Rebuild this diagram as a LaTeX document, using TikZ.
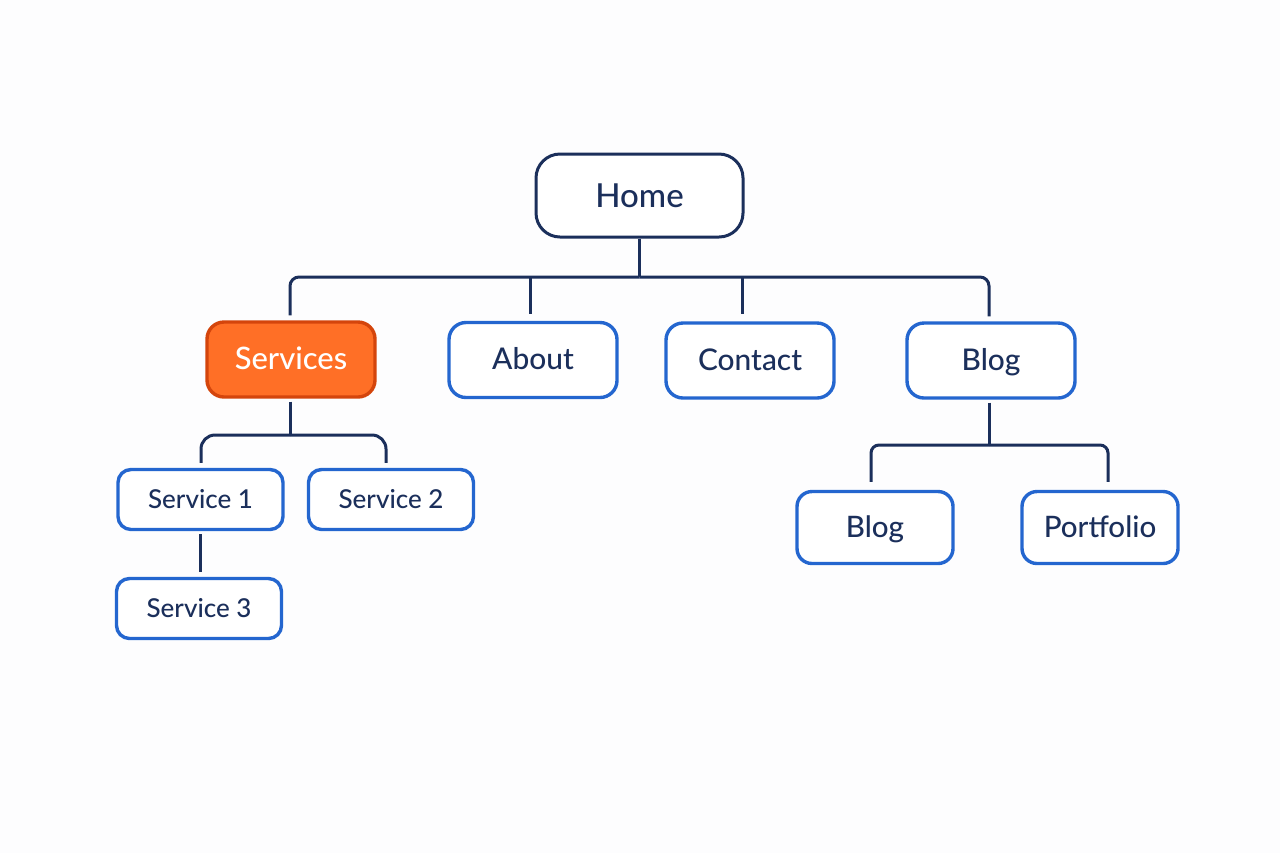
\documentclass[tikz,border=0pt]{standalone}
\usepackage{fontspec}
\setmainfont{Lato Medium}
\definecolor{paper}{HTML}{FDFDFE}
\definecolor{navy}{HTML}{1B2F5B}
\definecolor{linkblue}{HTML}{2466CF}
\definecolor{hotfill}{HTML}{FF6F26}
\definecolor{hotline}{HTML}{D4450C}
\tikzset{
  pagebox/.style={draw=linkblue, line width=0.034cm, fill=white, text=navy, inner sep=0pt, text depth=0pt},
  rootbox/.style={pagebox, draw=navy, line width=0.03cm, minimum width=2.07cm, minimum height=0.83cm, rounded corners=0.24cm, text height=0.23cm, font=\fontsize{9.4}{11}\selectfont},
  mainbox/.style={pagebox, minimum width=1.68cm, minimum height=0.75cm, rounded corners=0.17cm, text height=0.19cm, font=\fontsize{8.5}{10}\selectfont},
  hotbox/.style={mainbox, draw=hotline, fill=hotfill, text=white, font=\fontsize{8.8}{10}\selectfont},
  subbox/.style={pagebox, minimum width=1.65cm, minimum height=0.6cm, rounded corners=0.13cm, text height=0.17cm, font=\fontsize{7.4}{9}\selectfont},
  leafbox/.style={pagebox, minimum width=1.56cm, minimum height=0.72cm, rounded corners=0.15cm, text height=0.19cm, font=\fontsize{8.4}{10}\selectfont},
  wire/.style={draw=navy, line width=0.03cm},
  elbow/.style={to path={-| (\tikztotarget)}, rounded corners=#1},
}
\begin{document}
\begin{tikzpicture}
  \useasboundingbox[fill=paper] (0,0) rectangle (12.8,8.53);
  % boxes
  \node[rootbox] (home) at (6.395,6.575) {Home};
  \node[hotbox]  (services) at (2.91,4.935) {Services};
  \node[mainbox] (about)    at (5.33,4.93)  {About};
  \node[mainbox] (contact)  at (7.50,4.925) {Contact};
  \node[mainbox] (blog)     at (9.91,4.925) {Blog};
  \node[subbox]  (service1) at (2.005,3.535) {Service 1};
  \node[subbox]  (service2) at (3.91,3.535)  {Service 2};
  \node[subbox]  (service3) at (1.99,2.445)  {Service 3};
  \node[leafbox] (blogpost)  at (8.75,3.255) {Blog};
  \node[leafbox] (portfolio) at (11.00,3.255) {Portfolio};
  % junctions on the bars
  \coordinate (homebar) at (6.395,5.76);
  \coordinate (aboutbar) at (5.30,5.76);
  \coordinate (contactbar) at (7.42,5.76);
  \coordinate (servicesbar) at (2.90,4.18);
  \coordinate (blogbar) at (9.89,4.08);
  \begin{scope}[every edge/.style={wire, shorten >=0.05cm}]
    \path (home.south) edge[shorten >=0pt] (homebar);
    \path (homebar) edge[elbow=0.09cm] ([xshift=-0.01cm]services.north);
    \path (homebar) edge[elbow=0.09cm] ([xshift=-0.02cm]blog.north);
    \path (aboutbar) edge[shorten >=0.07cm] (aboutbar |- about.north);
    \path (contactbar) edge[shorten >=0.07cm] (contactbar |- contact.north);
    \path (servicesbar |- services.south) ++(0,-0.03) coordinate (servicesdrop) (servicesdrop) edge[shorten >=0pt] (servicesbar);
    \path (servicesbar) edge[elbow=0.14cm] ([xshift=0.005cm]service1.north);
    \path (servicesbar) edge[elbow=0.14cm] ([xshift=-0.05cm]service2.north);
    \path ([yshift=-0.03cm]service1.south) edge (service1.south |- service3.north);
    \path ([xshift=-0.02cm,yshift=-0.03cm]blog.south) edge[shorten >=0pt] (blogbar);
    \path (blogbar) edge[elbow=0.08cm, shorten >=0.08cm] ([xshift=-0.04cm]blogpost.north);
    \path (blogbar) edge[elbow=0.08cm, shorten >=0.08cm] ([xshift=0.08cm]portfolio.north);
  \end{scope}
\end{tikzpicture}
\end{document}
